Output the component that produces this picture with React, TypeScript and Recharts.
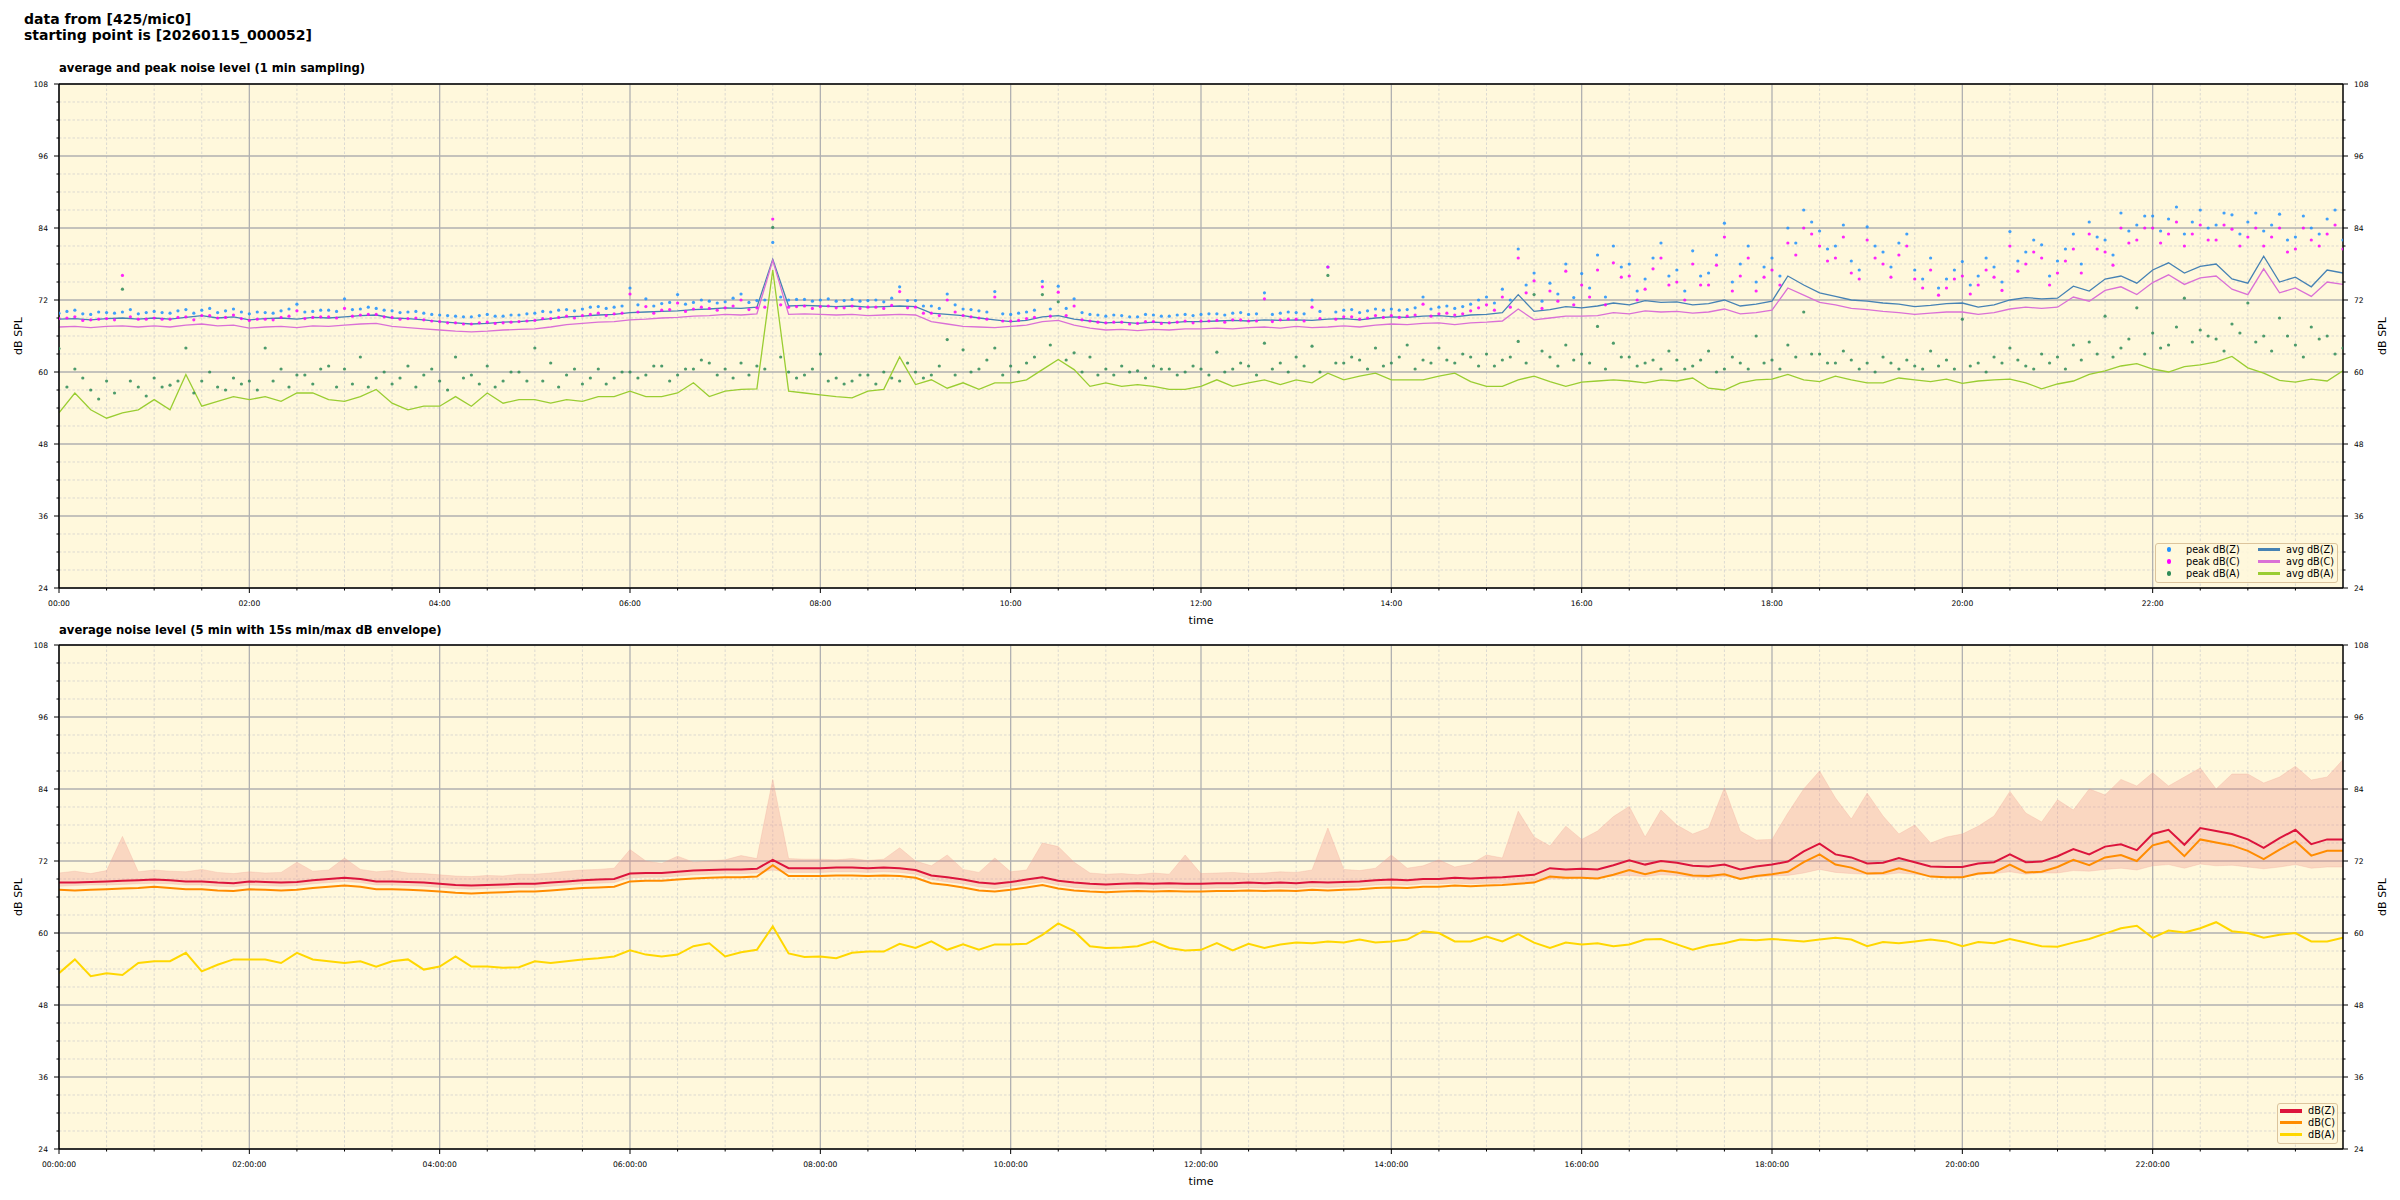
import { ComposedChart, Line, Area, XAxis, YAxis, CartesianGrid, Legend, ReferenceLine } from 'recharts'

const FONT = '"DejaVu Sans", sans-serif'
const W = 2400
const STEP_H = 1 / 6 // one sample every 10 minutes

// top panel: 1 min averages and peaks, every 10 min
const avgZ = [
  68.8, 68.9, 68.7, 68.9, 69.0, 68.8,
  69.0, 68.8, 69.1, 69.4, 69.0, 69.2,
  68.7, 68.9, 69.0, 68.8, 69.1, 69.0,
  69.2, 69.4, 69.5, 69.0, 68.9, 68.7,
  68.4, 68.2, 68.0, 68.1, 68.3, 68.4,
  68.6, 68.9, 69.2, 69.3, 69.5, 69.6,
  69.9, 70.0, 70.1, 70.2, 70.4, 70.5,
  70.7, 70.6, 70.8, 78.8, 71.0, 71.1,
  71.0, 70.9, 71.0, 70.8, 70.9, 71.0,
  70.9, 69.8, 69.6, 69.4, 69.0, 68.7,
  68.4, 68.6, 69.2, 69.4, 68.8, 68.5,
  68.2, 68.3, 68.1, 68.3, 68.2, 68.4,
  68.4, 68.5, 68.6, 68.5, 68.7, 68.6,
  68.7, 68.6, 68.8, 68.9, 68.7, 69.0,
  69.2, 69.1, 69.3, 69.4, 69.2, 69.5,
  69.6, 69.9, 72.9, 70.1, 70.4, 70.9,
  70.7, 71.0, 71.5, 71.2, 71.9, 71.6,
  71.7, 71.2, 71.4, 72.0, 71.0, 71.3,
  71.8, 76.0, 74.5, 73.2, 72.6, 72.0,
  71.8, 71.5, 71.3, 70.9, 71.1, 71.4,
  71.5, 70.8, 71.2, 72.0, 72.4, 72.2,
  72.3, 74.3, 73.5, 75.5, 76.0, 74.8,
  77.0, 78.2, 76.5, 77.6, 78.0, 75.5,
  74.8, 79.3, 75.0, 75.8, 74.2, 77.0,
  76.5,
]
const avgC = [
  67.5, 67.6, 67.4, 67.6, 67.7, 67.5,
  67.7, 67.5, 67.8, 68.0, 67.7, 67.8,
  67.3, 67.5, 67.6, 67.4, 67.7, 67.6,
  67.8, 68.0, 68.1, 67.6, 67.4, 67.2,
  67.0, 66.8, 66.7, 66.8, 67.0, 67.1,
  67.2, 67.5, 67.9, 68.1, 68.3, 68.4,
  68.7, 68.8, 69.0, 69.1, 69.3, 69.4,
  69.6, 69.5, 69.7, 78.6, 69.6, 69.7,
  69.6, 69.5, 69.6, 69.4, 69.5, 69.6,
  69.5, 68.4, 68.0, 67.6, 67.5, 67.4,
  67.6, 67.8, 68.4, 68.6, 67.8, 67.3,
  67.0, 67.1, 66.9, 67.1, 67.0, 67.2,
  67.2, 67.3, 67.2, 67.4, 67.5, 67.3,
  67.6, 67.4, 67.5, 67.7, 67.5, 67.8,
  68.0, 67.9, 68.1, 68.2, 67.9, 68.2,
  68.3, 68.5, 70.5, 68.7, 69.0, 69.3,
  69.3, 69.4, 69.9, 69.7, 70.2, 70.0,
  70.1, 69.8, 70.0, 70.5, 69.7, 69.9,
  70.3, 74.0, 72.8, 71.6, 71.2, 70.6,
  70.4, 70.1, 69.9, 69.6, 69.8, 70.0,
  70.0, 69.6, 69.9, 70.5, 70.8, 70.6,
  70.8, 72.5, 71.8, 73.6, 74.2, 72.9,
  74.9, 76.2, 74.6, 75.7, 76.0, 73.8,
  72.9, 77.2, 73.2, 74.0, 72.6, 75.0,
  74.6,
]
const avgA = [
  53.2, 56.5, 53.7, 52.3, 53.2, 53.7,
  55.4, 53.7, 59.6, 54.3, 55.1, 55.9,
  55.4, 55.9, 55.1, 56.5, 56.5, 55.4,
  55.1, 55.9, 57.1, 54.8, 53.7, 54.3,
  54.3, 55.9, 54.3, 56.5, 54.8, 55.4,
  55.4, 54.8, 55.4, 55.1, 55.9, 55.9,
  56.8, 55.9, 55.9, 56.5, 58.2, 55.9,
  56.8, 57.1, 57.2, 77.0, 56.8, 56.5,
  56.2, 55.9, 55.7, 56.8, 57.1, 62.5,
  57.9, 58.7, 57.3, 58.2, 57.1, 58.2,
  58.2, 58.7, 60.4, 62.1, 60.4, 57.6,
  58.2, 57.6, 57.9, 57.6, 57.1, 57.1,
  57.6, 58.7, 57.6, 58.2, 58.7, 57.9,
  58.7, 58.2, 59.8, 58.7, 59.3, 59.8,
  58.7, 58.7, 58.7, 59.3, 59.8, 58.4,
  57.6, 57.6, 58.7, 59.3, 58.4, 57.6,
  58.3, 58.5, 58.7, 58.5, 58.2, 58.7,
  58.5, 59.0, 57.3, 57.0, 58.2, 58.7,
  58.8, 59.6, 58.7, 58.4, 59.3, 58.7,
  58.2, 58.2, 59.0, 58.7, 58.4, 58.8,
  58.1, 58.5, 58.7, 58.8, 58.2, 57.2,
  58.0, 58.5, 59.6, 60.2, 61.0, 61.4,
  60.5, 60.0, 60.9, 61.2, 61.7, 62.6,
  60.7, 59.8, 58.6, 58.3, 58.8, 58.5,
  60.2,
]
// peaks on the full 10 min marks
const peakZ = [
  69.8, 70.3, 69.6, 69.9, 70.0, 69.7,
  70.1, 69.8, 70.4, 70.3, 69.9, 70.5,
  69.7, 69.9, 70.2, 71.3, 70.1, 70.3,
  72.2, 70.5, 70.6, 70.2, 70.0, 69.8,
  69.5, 69.3, 69.2, 69.6, 69.3, 69.5,
  69.8, 70.0, 70.4, 70.5, 70.9, 70.8,
  74.0, 72.2, 71.4, 72.9, 71.6, 71.8,
  71.7, 73.0, 71.9, 81.6, 72.0, 72.1,
  72.0, 71.8, 72.1, 71.9, 71.7, 74.2,
  71.9, 71.0, 73.0, 70.5, 70.2, 73.4,
  69.6, 70.0, 75.1, 74.3, 72.2, 69.6,
  69.3, 69.4, 69.2, 69.5, 69.3, 69.6,
  69.6, 69.7, 69.8, 69.6, 73.2, 69.8,
  69.9, 72.0, 77.5, 70.3, 69.9, 70.5,
  70.5, 70.4, 72.5, 70.8, 70.6, 71.3,
  72.5, 73.8, 80.5, 76.5, 74.8, 78.0,
  76.4, 79.5, 81.0, 78.0, 75.5, 81.5,
  77.0, 80.2, 76.5, 84.8, 78.0, 75.0,
  79.0, 84.0, 87.0, 83.5, 81.0, 78.5,
  84.2, 80.0, 81.5, 77.0, 79.0, 75.5,
  78.4, 76.0, 77.5, 83.4, 80.0, 81.2,
  78.5, 83.0, 85.0, 82.0, 86.5, 84.5,
  86.0, 85.5, 83.0, 87.0, 84.5, 86.2,
  85.0, 83.5, 86.3, 82.5, 84.0, 85.5,
  82.0,
]
const peakC = [
  68.9, 69.2, 68.7, 68.9, 76.1, 68.8,
  69.0, 68.8, 69.2, 69.4, 69.0, 69.5,
  68.6, 68.8, 69.1, 70.2, 69.1, 69.2,
  70.6, 69.5, 69.6, 69.1, 68.9, 68.7,
  68.4, 68.2, 68.0, 68.3, 68.2, 68.4,
  68.6, 68.9, 69.3, 69.4, 69.8, 69.7,
  73.0, 70.9, 70.3, 71.5, 70.5, 70.6,
  70.7, 72.0, 70.7, 85.5, 70.8, 71.0,
  70.9, 70.7, 71.0, 70.8, 70.6, 73.4,
  70.8, 69.8, 72.0, 69.4, 69.0, 72.5,
  68.5, 68.9, 74.2, 73.3, 71.0, 68.5,
  68.2, 68.3, 68.1, 68.4, 68.2, 68.5,
  68.5, 68.6, 68.7, 68.5, 72.2, 68.7,
  68.8, 70.8, 77.5, 69.2, 68.8, 69.4,
  69.4, 69.3, 71.3, 69.7, 69.5, 70.2,
  71.2, 72.5, 79.0, 75.2, 73.5, 76.8,
  74.5, 77.0, 78.2, 76.0, 73.8, 79.0,
  75.0, 78.0, 74.5, 82.5, 76.0, 73.5,
  77.0, 81.5, 84.0, 81.0, 79.0, 76.5,
  82.0, 78.0, 79.5, 75.5, 77.0, 74.0,
  76.0, 74.5, 75.8, 81.0, 78.0, 79.0,
  76.5, 80.5, 83.0, 80.0, 84.0, 82.0,
  84.0, 83.0, 81.0, 84.5, 82.0, 83.8,
  82.5, 81.0, 84.0, 80.5, 82.0, 83.0,
  80.5,
]
const peakA = [
  63.9, 60.5, 57.0, 58.5, 73.8, 57.5,
  59.0, 57.8, 64.0, 58.5, 57.5, 59.0,
  58.5, 64.0, 60.5, 59.5, 58.0, 61.0,
  60.5, 62.5, 59.0, 58.0, 61.0, 59.5,
  58.5, 62.5, 59.5, 61.0, 58.5, 60.0,
  64.0, 61.5, 59.5, 58.0, 60.5, 59.0,
  60.0, 59.5, 61.0, 59.5, 60.5, 61.5,
  60.5, 61.5, 61.0, 84.1, 60.0, 59.5,
  63.0, 59.0, 58.5, 59.5, 60.0, 58.5,
  60.0, 59.5, 65.4, 63.7, 60.5, 64.0,
  61.0, 61.5, 72.9, 71.7, 63.2, 62.5,
  60.5, 61.0, 60.2, 61.0, 60.5, 60.0,
  60.5, 63.3, 60.5, 61.0, 64.8, 61.5,
  62.5, 64.3, 76.1, 61.5, 62.0, 64.0,
  61.5, 64.5, 62.0, 64.0, 61.5, 62.5,
  63.0, 62.0, 65.1, 72.9, 62.5, 64.5,
  63.0, 67.6, 64.8, 62.5, 61.5, 60.5,
  62.0, 61.0, 63.5, 60.5, 61.5, 66.0,
  62.0, 64.5, 70.0, 63.0, 61.5, 62.0,
  61.5, 62.5, 60.5, 61.0, 63.5, 62.0,
  68.8, 61.5, 62.5, 64.0, 61.0, 63.0,
  62.5, 64.5, 65.0, 69.3, 64.0, 70.7,
  66.5, 64.5, 72.3, 67.0, 65.5, 68.0,
  71.5, 66.0, 69.0, 64.5, 67.5, 66.0,
  64.0,
]
// peaks read in between, on the 5 min marks (hh:05, hh:15, ...)
const peakZ2 = [
  70.1, 69.7, 70.0, 69.8, 70.4, 69.9,
  69.9, 70.2, 69.8, 70.6, 70.2, 70.0,
  70.0, 69.8, 70.5, 70.0, 70.3, 70.1,
  70.4, 70.8, 70.3, 69.9, 70.1, 69.6,
  69.4, 69.2, 69.4, 69.3, 69.5, 69.7,
  70.1, 70.3, 70.2, 70.8, 70.6, 71.0,
  71.2, 71.0, 71.6, 71.3, 72.0, 71.5,
  72.3, 71.6, 72.0, 72.5, 72.1, 71.8,
  72.2, 71.9, 71.8, 72.0, 72.3, 71.9,
  71.0, 70.6, 71.2, 70.4, 70.0, 69.7,
  69.8, 70.3, 70.5, 70.6, 69.9, 69.5,
  69.5, 69.2, 69.6, 69.3, 69.5, 69.4,
  69.7, 69.5, 69.9, 69.7, 69.6, 70.0,
  69.7, 70.1, 70.0, 70.4, 70.2, 70.3,
  70.3, 70.7, 70.5, 71.0, 70.9, 72.0,
  71.5, 72.0, 74.5, 71.8, 73.0, 72.4,
  74.0, 72.5, 77.5, 73.5, 79.0, 76.0,
  73.5, 76.0, 79.5, 75.0, 81.0, 77.5,
  76.0, 81.5, 85.0, 80.5, 84.5, 77.0,
  81.0, 77.5, 83.0, 75.5, 74.0, 77.0,
  74.5, 79.0, 75.0, 78.5, 82.0, 76.0,
  80.5, 78.0, 82.5, 79.5, 83.5, 86.0,
  83.5, 87.5, 85.0, 84.0, 86.5, 83.0,
  86.5, 84.5, 82.0, 86.0, 83.0, 87.0,
]
const peakC2 = [
  69.0, 68.6, 68.8, 68.7, 69.2, 68.8,
  68.8, 69.1, 68.7, 69.4, 69.1, 68.9,
  68.8, 68.7, 69.3, 68.9, 69.2, 69.0,
  69.3, 69.6, 69.2, 68.8, 69.0, 68.5,
  68.2, 68.0, 68.2, 68.1, 68.3, 68.5,
  68.9, 69.1, 69.0, 69.6, 69.4, 69.8,
  70.0, 69.8, 70.4, 70.1, 70.8, 70.3,
  71.0, 70.4, 70.8, 71.2, 70.9, 70.6,
  71.0, 70.7, 70.6, 70.8, 71.1, 70.7,
  69.8, 69.4, 70.0, 69.2, 68.8, 68.5,
  68.6, 69.1, 69.3, 69.4, 68.7, 68.3,
  68.3, 68.0, 68.4, 68.1, 68.3, 68.2,
  68.5, 68.3, 68.7, 68.5, 68.4, 68.8,
  68.5, 68.9, 68.8, 69.2, 69.0, 69.1,
  69.1, 69.5, 69.3, 69.8, 69.7, 70.7,
  70.3, 70.8, 73.2, 70.6, 71.8, 71.2,
  72.5, 71.2, 75.8, 72.0, 77.2, 74.5,
  72.0, 74.5, 77.8, 73.5, 79.0, 75.8,
  74.5, 79.5, 83.0, 78.5, 82.5, 75.5,
  79.0, 75.8, 81.0, 74.0, 72.8, 75.5,
  73.0, 77.0, 73.6, 76.8, 80.0, 74.5,
  78.5, 76.5, 80.5, 77.8, 81.5, 84.0,
  81.5, 85.0, 83.0, 82.0, 84.5, 81.0,
  84.0, 82.5, 80.0, 84.0, 81.0, 84.5,
]
const peakA2 = [
  57.5, 59.0, 55.5, 56.5, 58.5, 56.0,
  57.5, 58.5, 56.5, 60.0, 57.0, 58.0,
  57.0, 58.5, 57.5, 59.5, 60.5, 57.5,
  58.0, 57.5, 60.0, 59.0, 57.5, 60.5,
  57.0, 59.0, 58.0, 57.5, 60.0, 58.5,
  58.5, 57.5, 60.5, 59.0, 58.0, 60.0,
  59.0, 61.0, 58.5, 60.5, 62.0, 59.5,
  59.0, 59.5, 60.5, 62.5, 59.0, 60.5,
  58.5, 58.0, 59.5, 58.0, 59.0, 61.5,
  59.0, 61.0, 59.5, 60.0, 62.0, 59.5,
  60.0, 62.5, 64.5, 62.0, 60.0, 59.5,
  59.5, 60.0, 59.0, 60.5, 59.5, 61.0,
  59.5, 60.0, 61.5, 59.5, 60.5, 60.0,
  61.0, 60.0, 61.5, 62.5, 60.5, 61.0,
  62.5, 60.5, 61.5, 62.0, 63.0, 61.0,
  61.0, 62.5, 61.5, 63.5, 61.0, 62.0,
  61.5, 60.5, 62.5, 61.0, 62.0, 63.5,
  60.5, 62.0, 60.0, 62.5, 60.5, 61.5,
  60.5, 62.5, 63.0, 61.5, 63.5, 60.5,
  60.0, 61.5, 62.0, 60.5, 61.0, 60.5,
  61.0, 60.0, 61.5, 62.0, 60.5, 61.5,
  60.5, 62.0, 63.0, 62.5, 65.5, 63.0,
  64.0, 67.5, 65.0, 66.0, 63.5, 66.5,
  65.0, 63.5, 66.0, 62.5, 65.5, 63.0,
]

// bottom panel: 5 min averages and the 15 s min/max envelope of dB(Z)
const levelZ = [
  68.4, 68.4, 68.5, 68.6, 68.7, 68.8,
  68.9, 68.8, 68.6, 68.6, 68.4, 68.3,
  68.6, 68.5, 68.4, 68.5, 68.8, 69.0,
  69.2, 69.0, 68.6, 68.6, 68.5, 68.4,
  68.2, 68.0, 67.9, 68.0, 68.1, 68.2,
  68.2, 68.4, 68.6, 68.8, 68.9, 69.0,
  69.9, 70.0, 70.0, 70.2, 70.4, 70.5,
  70.6, 70.6, 70.7, 72.2, 70.8, 70.8,
  70.8, 70.9, 70.9, 70.8, 70.9, 70.8,
  70.5, 69.6, 69.3, 68.9, 68.4, 68.2,
  68.5, 68.9, 69.3, 68.7, 68.4, 68.2,
  68.1, 68.2, 68.3, 68.2, 68.3, 68.2,
  68.2, 68.3, 68.3, 68.4, 68.3, 68.4,
  68.3, 68.5, 68.4, 68.5, 68.6, 68.8,
  68.9, 68.8, 69.0, 69.0, 69.2, 69.1,
  69.2, 69.3, 69.5, 69.7, 70.8, 70.6,
  70.7, 70.6, 71.3, 72.1, 71.4, 72.0,
  71.7, 71.2, 71.1, 71.4, 70.6, 71.1,
  71.4, 71.9, 73.6, 74.9, 73.1, 72.6,
  71.6, 71.7, 72.5, 71.8, 71.1, 71.0,
  71.0, 71.6, 71.8, 73.1, 71.8, 71.9,
  72.8, 74.0, 73.1, 74.4, 74.8, 73.8,
  76.5, 77.2, 74.7, 77.5, 77.0, 76.5,
  75.6, 74.2, 75.8, 77.2, 74.8, 75.6,
  75.6,
]
const levelC = [
  67.2, 67.1, 67.2, 67.3, 67.4, 67.5,
  67.7, 67.5, 67.3, 67.3, 67.1, 67.0,
  67.3, 67.2, 67.1, 67.2, 67.5, 67.7,
  67.9, 67.7, 67.3, 67.3, 67.2, 67.1,
  66.9, 66.7, 66.6, 66.7, 66.8, 66.9,
  66.9, 67.1, 67.3, 67.5, 67.6, 67.7,
  68.6, 68.7, 68.7, 68.9, 69.1, 69.2,
  69.3, 69.3, 69.4, 71.3, 69.5, 69.5,
  69.5, 69.6, 69.6, 69.5, 69.6, 69.5,
  69.2, 68.3, 68.0, 67.6, 67.1, 66.9,
  67.2, 67.6, 68.0, 67.4, 67.1, 66.9,
  66.8, 66.9, 67.0, 66.9, 67.0, 66.9,
  66.9, 67.0, 67.0, 67.1, 67.0, 67.1,
  67.0, 67.2, 67.1, 67.2, 67.3, 67.5,
  67.6, 67.5, 67.7, 67.7, 67.9, 67.8,
  67.9, 68.0, 68.2, 68.4, 69.4, 69.2,
  69.2, 69.1, 69.7, 70.5, 69.8, 70.4,
  70.1, 69.6, 69.5, 69.8, 69.0, 69.5,
  69.8, 70.2, 71.8, 73.1, 71.4, 70.9,
  69.9, 70.0, 70.8, 70.1, 69.4, 69.3,
  69.3, 69.9, 70.1, 71.4, 70.1, 70.2,
  71.0, 72.2, 71.3, 72.6, 73.0, 72.0,
  74.6, 75.3, 72.8, 75.6, 75.1, 74.6,
  73.7, 72.3, 73.9, 75.3, 72.9, 73.7,
  73.7,
]
const levelA = [
  53.3, 55.6, 52.8, 53.3, 53.0, 55.0,
  55.3, 55.3, 56.7, 53.6, 54.7, 55.6,
  55.6, 55.6, 55.0, 56.7, 55.6, 55.3,
  55.0, 55.3, 54.4, 55.3, 55.6, 53.9,
  54.4, 56.1, 54.4, 54.4, 54.2, 54.3,
  55.3, 55.0, 55.3, 55.6, 55.8, 56.1,
  57.1, 56.4, 56.1, 56.4, 57.8, 58.3,
  56.1, 56.8, 57.2, 61.1, 56.6, 56.0,
  56.1, 55.8, 56.7, 56.9, 56.9, 58.2,
  57.5, 58.6, 57.2, 58.1, 57.2, 58.1,
  58.1, 58.2, 59.7, 61.6, 60.3, 57.8,
  57.5, 57.6, 57.8, 58.6, 57.5, 57.1,
  57.2, 58.3, 57.1, 58.2, 57.5, 58.1,
  58.4, 58.3, 58.6, 58.4, 58.9, 58.4,
  58.6, 58.9, 60.3, 60.0, 58.6, 58.6,
  59.4, 58.6, 59.8, 58.4, 57.5, 58.4,
  58.1, 58.3, 57.8, 58.1, 58.9, 59.0,
  58.1, 57.2, 57.9, 58.3, 58.9, 58.8,
  59.0, 58.8, 58.6, 58.9, 59.2, 58.9,
  57.8, 58.5, 58.3, 58.6, 58.9, 58.6,
  57.8, 58.5, 58.3, 59.0, 58.4, 57.8,
  57.7, 58.4, 59.0, 59.9, 60.8, 61.2,
  59.2, 60.4, 60.1, 60.8, 61.8, 60.3,
  60.0, 59.2, 59.7, 60.0, 58.6, 58.6,
  59.2,
]
const envLo = [
  67.8, 67.9, 68.0, 68.0, 68.1, 68.2,
  68.3, 68.2, 68.0, 68.0, 67.8, 67.7,
  68.0, 67.9, 67.8, 67.9, 68.2, 68.4,
  68.6, 68.4, 68.0, 68.0, 67.9, 67.8,
  67.6, 67.4, 67.3, 67.4, 67.5, 67.6,
  67.6, 67.8, 68.0, 68.2, 68.3, 68.4,
  69.2, 69.3, 69.3, 69.5, 69.7, 69.8,
  69.9, 69.9, 70.0, 70.5, 70.1, 70.1,
  70.1, 70.2, 70.2, 70.1, 70.2, 70.1,
  69.8, 68.9, 68.5, 68.2, 67.7, 67.4,
  67.8, 68.1, 68.5, 68.0, 67.6, 67.4,
  67.3, 67.4, 67.5, 67.4, 67.5, 67.4,
  67.4, 67.5, 67.5, 67.6, 67.5, 67.6,
  67.5, 67.7, 67.6, 67.7, 67.8, 68.0,
  68.1, 68.0, 68.2, 68.2, 68.3, 68.2,
  68.3, 68.3, 68.4, 68.5, 69.0, 69.0,
  69.3, 69.2, 69.5, 69.6, 69.4, 69.7,
  69.6, 69.3, 69.2, 69.4, 69.1, 69.3,
  69.5, 69.6, 70.0, 70.6, 70.1, 69.9,
  69.8, 69.7, 70.0, 69.8, 69.5, 69.4,
  69.4, 69.7, 69.9, 70.2, 69.8, 70.0,
  70.0, 70.4, 70.3, 70.6, 70.8, 70.5,
  71.2, 71.4, 70.8, 71.5, 71.2, 71.3,
  71.0, 70.7, 71.0, 71.4, 70.8, 71.0,
  71.0,
]
const envHi = [
  70.0, 70.3, 69.9, 70.4, 76.1, 70.2,
  70.5, 70.3, 70.2, 70.6, 70.1, 69.9,
  70.2, 70.0, 70.1, 71.8, 70.3, 70.5,
  72.5, 70.6, 70.2, 70.4, 70.0, 69.9,
  69.7, 69.5, 69.4, 69.6, 69.5, 69.8,
  69.8, 70.0, 70.3, 70.5, 70.6, 70.8,
  73.9, 72.0, 71.6, 72.8, 71.8, 72.0,
  72.2, 72.9, 72.4, 85.6, 72.4, 72.3,
  72.3, 72.2, 72.4, 72.1, 72.3, 74.2,
  72.0, 71.2, 73.0, 70.6, 70.1, 72.5,
  70.2, 70.5, 75.0, 74.4, 71.8, 70.0,
  69.8, 69.9, 69.7, 70.0, 69.8, 73.0,
  69.9, 70.0, 70.1, 69.9, 70.0, 70.2,
  70.1, 70.5, 77.5, 70.6, 70.4, 70.8,
  73.0, 70.8, 71.2, 72.2, 71.0, 71.5,
  73.0, 72.5, 80.3, 76.0, 74.5, 77.8,
  75.6, 77.0, 79.4, 81.1, 76.0, 80.5,
  78.0, 76.5, 77.5, 84.2, 77.0, 75.5,
  75.6, 80.0, 84.0, 87.0, 82.5, 79.0,
  83.3, 79.5, 76.5, 78.0, 75.0, 76.0,
  76.5, 77.8, 79.5, 83.6, 80.0, 78.5,
  82.2, 80.5, 84.0, 83.0, 85.6, 84.5,
  86.7, 84.5, 86.0, 87.5, 84.0, 86.5,
  86.5, 85.0, 86.0, 87.8, 85.5, 86.0,
  88.9,
]

const times = avgZ.map((_, i) => i * STEP_H)

const X_TICKS = Array.from({ length: 48 }, (_, i) => i / 2)
const X_MAJOR = X_TICKS.filter((v) => v % 2 === 0)
const X_MINOR = X_TICKS.filter((v) => v % 2 !== 0)
const Y_TICKS = Array.from({ length: 29 }, (_, i) => 24 + i * 3)
const Y_MAJOR = Y_TICKS.filter((v) => (v - 24) % 12 === 0)
const Y_MINOR = Y_TICKS.filter((v) => (v - 24) % 12 !== 0)

// rows on the 10 min marks carry the averages, rows in between only the extra peaks
const topData = times.flatMap((t, i) => {
  const row = { t, peakZ: peakZ[i], peakC: peakC[i], peakA: peakA[i], avgZ: avgZ[i], avgC: avgC[i], avgA: avgA[i] }
  if (i >= peakZ2.length) return [row]
  return [row, { t: t + STEP_H / 2, peakZ: peakZ2[i], peakC: peakC2[i], peakA: peakA2[i] }]
})

const bottomData = times.map((t, i) => ({
  t,
  env: [envLo[i], envHi[i]],
  dbZ: levelZ[i],
  dbC: levelC[i],
  dbA: levelA[i],
}))

const TOP_DOTS = [
  { key: 'peakZ', name: 'peak dB(Z)', color: '#1e90ff' },
  { key: 'peakC', name: 'peak dB(C)', color: '#ff00ff' },
  { key: 'peakA', name: 'peak dB(A)', color: '#2e8b57' },
]
const TOP_LINES = [
  { key: 'avgZ', name: 'avg dB(Z)', color: '#4682b4' },
  { key: 'avgC', name: 'avg dB(C)', color: '#da70d6' },
  { key: 'avgA', name: 'avg dB(A)', color: '#9acd32' },
]
const BOTTOM_LINES = [
  { key: 'dbZ', name: 'dB(Z)', color: '#dc143c' },
  { key: 'dbC', name: 'dB(C)', color: '#ff8c00' },
  { key: 'dbA', name: 'dB(A)', color: '#ffd700' },
]

const TICK_FONT = 7.6
const pad = (n: number) => String(n).padStart(2, '0')
const fmtShort = (h: number) => `${pad(h)}:00`
const fmtLong = (h: number) => `${pad(h)}:00:00`

const makeXTick = (fmt: (h: number) => string) => (p: any) => {
  const v = p.payload.value
  const major = v % 2 === 0
  return (
    <g>
      <line x1={p.x} x2={p.x} y1={p.y} y2={p.y + (major ? 5 : 2.5)} stroke="#000" strokeWidth={1} />
      {major && (
        <text x={p.x} y={p.y + 17.5} textAnchor="middle" fontSize={TICK_FONT} fontFamily={FONT} fill="#000">
          {fmt(v)}
        </text>
      )}
    </g>
  )
}

const makeYTick = (side: 'left' | 'right') => (p: any) => {
  const v = p.payload.value
  const major = (v - 24) % 12 === 0
  const dir = side === 'left' ? -1 : 1
  const len = major ? 5 : 2.5
  return (
    <g>
      <line x1={p.x} x2={p.x + dir * len} y1={p.y} y2={p.y} stroke="#000" strokeWidth={1} />
      {major && (
        <text
          x={p.x + dir * 11}
          y={p.y + 2.7}
          textAnchor={side === 'left' ? 'end' : 'start'}
          fontSize={TICK_FONT}
          fontFamily={FONT}
          fill="#000"
        >
          {v}
        </text>
      )}
    </g>
  )
}

const legendText = { position: 'absolute' as const, fontSize: 9.7, lineHeight: '12px', fontFamily: FONT, color: '#000', whiteSpace: 'nowrap' as const }

const legendBox = (w: number, h: number) => ({
  position: 'relative' as const,
  width: w,
  height: h,
  boxSizing: 'border-box' as const,
  border: '1px solid #dcc49c',
  borderRadius: 3,
  background: 'rgba(255,248,220,0.85)',
})

const TopLegend = () => (
  <div style={legendBox(183, 40)}>
    {TOP_DOTS.map((s, i) => (
      <div key={s.key}>
        <div style={{ position: 'absolute', left: 10.5, top: 5.5 + i * 12 - 2.3, width: 4.6, height: 4.6, borderRadius: '50%', background: s.color }} />
        <div style={{ ...legendText, left: 30, top: 5.5 + i * 12 - 6 }}>{s.name}</div>
      </div>
    ))}
    {TOP_LINES.map((s, i) => (
      <div key={s.key}>
        <div style={{ position: 'absolute', left: 102, top: 5.5 + i * 12 - 1.6, width: 22, height: 3.2, background: s.color }} />
        <div style={{ ...legendText, left: 130, top: 5.5 + i * 12 - 6 }}>{s.name}</div>
      </div>
    ))}
  </div>
)

const BottomLegend = () => (
  <div style={legendBox(61, 41)}>
    {BOTTOM_LINES.map((s, i) => (
      <div key={s.key}>
        <div style={{ position: 'absolute', left: 2, top: 7 + i * 11.8 - 1.6, width: 22, height: 3.2, background: s.color }} />
        <div style={{ ...legendText, left: 30, top: 7 + i * 11.8 - 6 }}>{s.name}</div>
      </div>
    ))}
  </div>
)

type PanelProps = {
  data: any[]
  height: number
  top: number
  fmt: (h: number) => string
  legend: any
  legendPos: { left: number; top: number }
  children: any
}

const Panel = ({ data, height, top, fmt, legend, legendPos, children }: PanelProps) => (
  <ComposedChart width={W} height={height} data={data} margin={{ top, right: 0, bottom: 0, left: 0 }}>
    <CartesianGrid
      fill="#fff8dc"
      fillOpacity={1}
      stroke="#cdcdcd"
      strokeDasharray="2.5 2"
      strokeWidth={0.7}
      horizontalValues={Y_MINOR}
      verticalValues={X_MINOR}
    />
    <CartesianGrid stroke="#b0b0b0" strokeWidth={1.3} horizontalValues={Y_MAJOR} verticalValues={X_MAJOR} />
    <XAxis
      dataKey="t"
      type="number"
      domain={[0, 24]}
      allowDataOverflow
      ticks={X_TICKS}
      interval={0}
      tickLine={false}
      tickSize={0}
      tickMargin={0}
      tick={makeXTick(fmt)}
      height={height - top - 504}
      axisLine={{ stroke: '#000', strokeWidth: 1.5 }}
    />
    <YAxis
      type="number"
      domain={[24, 108]}
      allowDataOverflow
      ticks={Y_TICKS}
      interval={0}
      tickLine={false}
      tickSize={0}
      tickMargin={0}
      tick={makeYTick('left')}
      width={59}
      axisLine={{ stroke: '#000', strokeWidth: 1.5 }}
    />
    <YAxis
      yAxisId="r"
      orientation="right"
      type="number"
      domain={[24, 108]}
      allowDataOverflow
      ticks={Y_TICKS}
      interval={0}
      tickLine={false}
      tickSize={0}
      tickMargin={0}
      tick={makeYTick('right')}
      width={57}
      axisLine={{ stroke: '#000', strokeWidth: 1.5 }}
    />
    {children}
    <ReferenceLine y={108} stroke="#000" strokeWidth={1.5} />
    <Legend
      layout="horizontal"
      verticalAlign="middle"
      align="center"
      content={legend}
      wrapperStyle={{ left: legendPos.left, top: legendPos.top, width: 'auto', height: 'auto' }}
    />
  </ComposedChart>
)

const textBase = { position: 'absolute' as const, fontFamily: FONT, color: '#000', whiteSpace: 'nowrap' as const }

const AxisTitles = ({ plotTop }: { plotTop: number }) => (
  <>
    <div style={{ ...textBase, fontSize: 11, left: 18, top: plotTop + 252, transform: 'translate(-50%, -50%) rotate(-90deg)' }}>dB SPL</div>
    <div style={{ ...textBase, fontSize: 11, left: 2382, top: plotTop + 252, transform: 'translate(-50%, -50%) rotate(-90deg)' }}>dB SPL</div>
    <div style={{ ...textBase, fontSize: 11, left: 1201, top: plotTop + 536, transform: 'translate(-50%, -50%)' }}>time</div>
  </>
)

export default function App() {
  return (
    <div style={{ position: 'relative', width: W, height: 1200, background: '#fff', overflow: 'hidden' }}>
      <style>{'body{margin:0}'}</style>
      <div style={{ ...textBase, left: 24, top: 11, fontSize: 14, lineHeight: '16px', fontWeight: 'bold' }}>
        data from [425/mic0]
        <br />
        starting point is [20260115_000052]
      </div>
      <div style={{ ...textBase, left: 59, top: 62, fontSize: 11.6, lineHeight: '13px', fontWeight: 'bold' }}>
        average and peak noise level (1 min sampling)
      </div>
      <div style={{ ...textBase, left: 59, top: 624, fontSize: 11.6, lineHeight: '13px', fontWeight: 'bold' }}>
        average noise level (5 min with 15s min/max dB envelope)
      </div>

      <div style={{ position: 'absolute', left: 0, top: 0 }}>
        <Panel data={topData} height={640} top={84} fmt={fmtShort} legend={TopLegend} legendPos={{ left: 2155, top: 543 }}>
          {TOP_DOTS.map((s) => (
            <Line
              key={s.key}
              dataKey={s.key}
              name={s.name}
              stroke="none"
              dot={{ r: 1.6, fill: s.color, fillOpacity: 0.85, stroke: 'none' }}
              activeDot={false}
              isAnimationActive={false}
            />
          ))}
          {TOP_LINES.map((s) => (
            <Line
              key={s.key}
              dataKey={s.key}
              name={s.name}
              stroke={s.color}
              strokeWidth={1.3}
              dot={false}
              activeDot={false}
              connectNulls
              isAnimationActive={false}
            />
          ))}
        </Panel>
      </div>

      <div style={{ position: 'absolute', left: 0, top: 600 }}>
        <Panel data={bottomData} height={600} top={45} fmt={fmtLong} legend={BottomLegend} legendPos={{ left: 2277, top: 503 }}>
          <Area
            dataKey="env"
            name="envelope"
            stroke="#f2a595"
            strokeOpacity={0.35}
            strokeWidth={0.8}
            fill="#f08c84"
            fillOpacity={0.3}
            activeDot={false}
            legendType="none"
            isAnimationActive={false}
          />
          {BOTTOM_LINES.map((s) => (
            <Line
              key={s.key}
              dataKey={s.key}
              name={s.name}
              stroke={s.color}
              strokeWidth={2}
              dot={false}
              activeDot={false}
              isAnimationActive={false}
            />
          ))}
        </Panel>
      </div>

      <AxisTitles plotTop={84} />
      <AxisTitles plotTop={645} />
    </div>
  )
}
